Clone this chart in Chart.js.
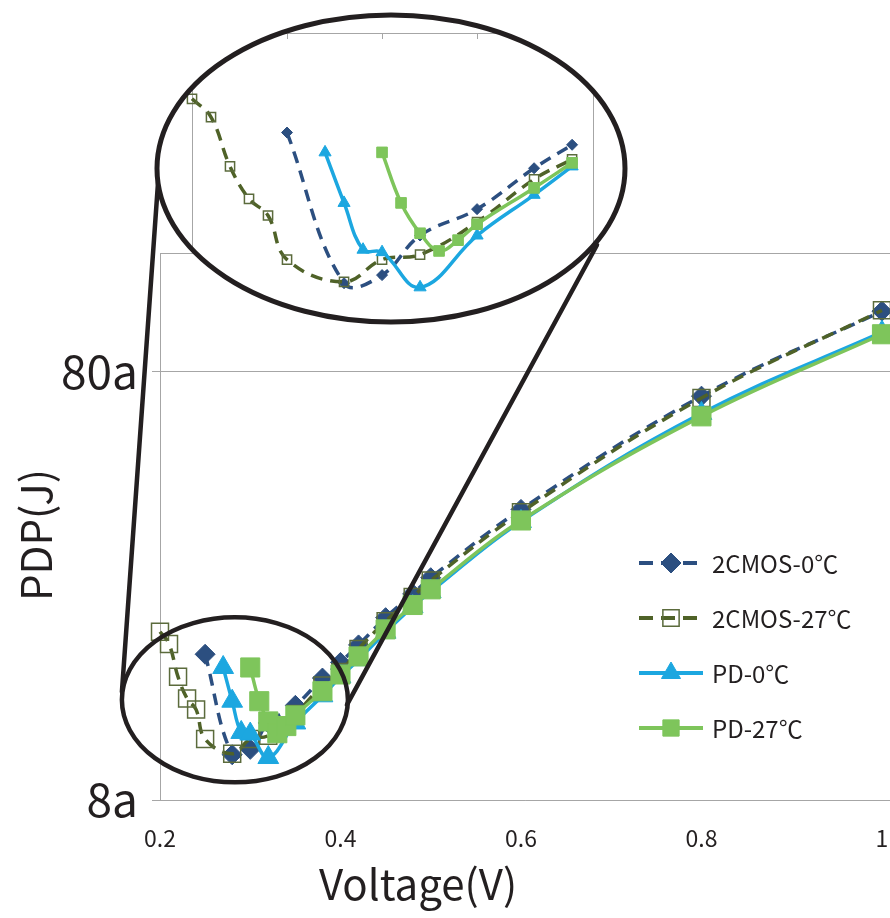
<!DOCTYPE html>
<html>
<head>
<meta charset="utf-8">
<script src="https://cdn.jsdelivr.net/npm/chart.js@4"></script>
<style>
  html, body { margin: 0; padding: 0; background: #fff; overflow: hidden; }
  #wrap { position: relative; width: 890px; height: 918px; }
  #main, #zoom { position: absolute; left: 0; top: 0; }
</style>
</head>
<body>
<div id="wrap">
  <canvas id="main" width="890" height="918"></canvas>
  <canvas id="zoom" width="660" height="360"></canvas>
</div>
<script>
// ---- data: supply voltage (V) and power-delay product (aJ) per circuit ----
const seriesNames = ['2CMOS-0\u2103', '2CMOS-27\u2103', 'PD-0\u2103', 'PD-27\u2103'];

const voltsCmos0 = [0.25, 0.28, 0.30, 0.32, 0.35, 0.38, 0.40, 0.42, 0.45, 0.48, 0.50, 0.60, 0.80, 1.00];
const pdpCmos0   = [17.5, 10.2, 10.5, 12.1, 13.3, 15.4, 16.75, 18.4, 21.3, 24.2, 26.4, 38.1, 70.0, 110.5];

const voltsCmos27 = [0.20, 0.21, 0.22, 0.23, 0.24, 0.25, 0.28, 0.30, 0.32, 0.35, 0.38, 0.40, 0.42, 0.45, 0.48, 0.50, 0.60, 0.80, 1.00];
const pdpCmos27   = [19.75, 18.5, 15.5, 13.8, 13.0, 11.1, 10.25, 11.1, 11.3, 12.7, 14.8, 15.9, 18.0, 20.9, 23.8, 26.0, 37.5, 69.3, 111.0];

const voltsPd0 = [0.27, 0.28, 0.29, 0.30, 0.32, 0.35, 0.38, 0.40, 0.42, 0.45, 0.48, 0.50, 0.60, 0.80, 1.00];
const pdpPd0   = [16.3, 13.6, 11.5, 11.4, 10.05, 12.1, 14.0, 15.5, 17.0, 19.7, 22.6, 24.5, 35.7, 63.8, 98.7];

const voltsPd27 = [0.30, 0.31, 0.32, 0.33, 0.34, 0.35, 0.38, 0.40, 0.42, 0.45, 0.48, 0.50, 0.60, 0.80, 1.00];
const pdpPd27   = [16.3, 13.6, 12.2, 11.45, 11.9, 12.6, 14.35, 15.7, 17.3, 20.0, 22.8, 24.8, 35.9, 62.8, 97.6];

const xTickValues = [0.2, 0.4, 0.6, 0.8, 1.0];
const xTickLabels = ['0.2', '0.4', '0.6', '0.8', '1'];
const yTickValues = [8, 80];
const yTickLabels = ['8a', '80a'];

// close-up view: voltage range shown and its top tick marks
const zoomVoltMax = 0.40;
const zoomTickValues = [0.25, 0.30, 0.35, 0.40];

// ---- look ----
const FONT = '"Noto Sans CJK JP", "Noto Sans", sans-serif';
const INK = '#231f20';
const GRID = '#a6a6a6';

const SERIES = [
  { xs: voltsCmos0,  ys: pdpCmos0,  color: '#2c4f80', dash: [12, 8], style: 'rectRot',  filled: true,  r: 10,   zr: 5.5 },
  { xs: voltsCmos27, ys: pdpCmos27, color: '#4f6228', dash: [12, 8], style: 'rect',     filled: false, r: 12,   zr: 6.5 },
  { xs: voltsPd0,    ys: pdpPd0,    color: '#1ca7e0', dash: [],      style: 'triangle', filled: true,  r: 12,   zr: 7 },
  { xs: voltsPd27,   ys: pdpPd27,   color: '#7ec55b', dash: [],      style: 'rect',     filled: true,  r: 13.5, zr: 7.5 },
];

function datasets(zoomed) {
  return SERIES.map((s, i) => {
    let pts = s.xs.map((x, k) => ({ x, y: s.ys[k] }));
    if (zoomed) pts = pts.filter(p => p.x <= zoomVoltMax + 1e-9);
    return {
      label: seriesNames[i],
      data: pts,
      order: SERIES.length - 1 - i,
      borderColor: s.color,
      backgroundColor: s.filled ? s.color : 'rgba(255,255,255,0)',
      borderWidth: 3.5,
      borderDash: s.dash,
      tension: 0.4,
      pointStyle: s.style,
      pointRadius: zoomed ? s.zr : s.r,
      pointBackgroundColor: s.filled ? s.color : 'rgba(255,255,255,0)',
      pointBorderColor: s.filled ? s.color : '#5b6b3c',
      pointBorderWidth: s.filled ? 1 : 1.5,
      clip: false,
    };
  });
}

// magnified view: ellipse outline
const BIG = { cx: 391, cy: 168.5, rx: 234, ry: 153.5 };
// region that is magnified (centre in data units, radii in px)
const SMALL = { v: 0.283, pdp: 13.7, rx: 113, ry: 82.5 };

function drawMarker(ctx, style, x, y, r) {
  ctx.beginPath();
  if (style === 'rect') {
    const h = r * Math.SQRT1_2;
    ctx.rect(x - h, y - h, 2 * h, 2 * h);
  } else if (style === 'rectRot') {
    ctx.moveTo(x - r, y); ctx.lineTo(x, y - r); ctx.lineTo(x + r, y); ctx.lineTo(x, y + r); ctx.closePath();
  } else {
    for (let k = 0; k < 3; k++) {
      const t = -Math.PI / 2 + k * 2 * Math.PI / 3;
      const px = x + Math.cos(t) * r, py = y + Math.sin(t) * r;
      k ? ctx.lineTo(px, py) : ctx.moveTo(px, py);
    }
    ctx.closePath();
  }
  ctx.fill();
  ctx.stroke();
}

const mainDecor = {
  id: 'mainDecor',
  beforeDatasetsDraw(chart) {
    const { ctx, chartArea: a } = chart;
    ctx.save();
    ctx.strokeStyle = GRID; ctx.lineWidth = 1;
    ctx.beginPath(); ctx.moveTo(a.left, a.top + 0.5); ctx.lineTo(a.right, a.top + 0.5); ctx.stroke();
    ctx.restore();
  },
  afterDraw(chart) {
    const { ctx, scales: { x, y } } = chart;
    ctx.save();
    // axis titles
    ctx.fillStyle = INK;
    ctx.font = `42px ${FONT}`;
    ctx.textAlign = 'center'; ctx.textBaseline = 'middle';
    ctx.fillText('Voltage(V)', 418, 884);
    ctx.save();
    ctx.translate(36, 535); ctx.rotate(-Math.PI / 2);
    ctx.fillText('PDP(J)', 0, 0);
    ctx.restore();

    // legend
    const rows = [563, 618, 673, 728];
    SERIES.forEach((s, i) => {
      const ly = rows[i];
      ctx.save();
      ctx.strokeStyle = s.color; ctx.lineWidth = 4;
      ctx.setLineDash(s.dash.length ? [14, 8] : []);
      ctx.beginPath(); ctx.moveTo(639, ly); ctx.lineTo(s.dash.length ? 697 : 703, ly); ctx.stroke();
      ctx.setLineDash([]);
      ctx.fillStyle = s.filled ? s.color : 'rgba(255,255,255,0)';
      ctx.strokeStyle = s.filled ? s.color : '#5b6b3c';
      ctx.lineWidth = s.filled ? 1 : 1.5;
      const lr = s.style === 'rectRot' ? 10 : (s.style === 'triangle' ? 11 : 11.5);
      drawMarker(ctx, s.style, 671, ly, lr);
      ctx.restore();
      ctx.fillStyle = INK;
      ctx.font = `24px ${FONT}`;
      ctx.textAlign = 'left'; ctx.textBaseline = 'middle';
      ctx.fillText(seriesNames[i], 712, ly + 1);
    });

    // magnified region and connectors
    const cx = x.getPixelForValue(SMALL.v), cy = y.getPixelForValue(SMALL.pdp);
    ctx.strokeStyle = INK; ctx.lineWidth = 4.5;
    ctx.beginPath(); ctx.ellipse(cx, cy, SMALL.rx, SMALL.ry, 0, 0, 2 * Math.PI); ctx.stroke();
    ctx.lineCap = 'round';
    ctx.beginPath(); ctx.moveTo(158.5, 176); ctx.lineTo(cx - SMALL.rx, cy - 8); ctx.stroke();
    ctx.beginPath(); ctx.moveTo(597, 245); ctx.lineTo(cx + SMALL.rx - 1, cy + 5); ctx.stroke();
    ctx.restore();
  }
};

new Chart(document.getElementById('main'), {
  type: 'line',
  data: { datasets: datasets(false) },
  plugins: [mainDecor],
  options: {
    responsive: false, animation: false, events: [],
    layout: { autoPadding: false, padding: { top: 253, right: 0, left: 0, bottom: 0 } },
    plugins: { legend: { display: false }, tooltip: { enabled: false } },
    scales: {
      x: {
        type: 'linear', min: 0.2, max: 1.0089,
        afterBuildTicks: s => { s.ticks = xTickValues.map(v => ({ value: v })); },
        afterFit: s => { s.height = 118; s.paddingLeft = 0; s.paddingRight = 0; },
        grid: { display: false, drawTicks: false },
        border: { display: true, color: GRID, width: 1 },
        ticks: {
          callback: (v, i) => xTickLabels[i],
          font: { family: FONT, size: 23 }, color: INK,
          padding: 24, maxRotation: 0, autoSkip: false
        }
      },
      y: {
        type: 'logarithmic', min: 8, max: 151,
        afterBuildTicks: s => { s.ticks = yTickValues.map(v => ({ value: v })); },
        afterFit: s => { s.width = 160; s.paddingTop = 0; s.paddingBottom = 0; },
        grid: { color: GRID, lineWidth: 1, tickLength: 8 },
        border: { display: true, color: GRID, width: 1 },
        ticks: {
          callback: (v, i) => yTickLabels[i],
          font: { family: FONT, size: 46 }, color: INK,
          padding: 14, autoSkip: false
        }
      }
    }
  }
});

const zoomDecor = {
  id: 'zoomDecor',
  beforeDraw(chart) {
    const { ctx, chartArea: a } = chart;
    ctx.save();
    ctx.beginPath(); ctx.ellipse(BIG.cx, BIG.cy, BIG.rx, BIG.ry, 0, 0, 2 * Math.PI);
    ctx.fillStyle = '#fff'; ctx.fill();
    ctx.clip();
    ctx.strokeStyle = GRID; ctx.lineWidth = 1;
    ctx.strokeRect(a.left + 0.5, a.top + 0.5, a.right - a.left, a.bottom - a.top);
    const xs = chart.scales.x;
    zoomTickValues.forEach(v => {
      const px = Math.round(xs.getPixelForValue(v)) + 0.5;
      ctx.beginPath(); ctx.moveTo(px, a.top); ctx.lineTo(px, a.top + 6); ctx.stroke();
    });
  },
  afterDraw(chart) {
    const ctx = chart.ctx;
    ctx.restore();
    ctx.save();
    ctx.beginPath(); ctx.ellipse(BIG.cx, BIG.cy, BIG.rx, BIG.ry, 0, 0, 2 * Math.PI);
    ctx.strokeStyle = INK; ctx.lineWidth = 5; ctx.stroke();
    ctx.restore();
  }
};

new Chart(document.getElementById('zoom'), {
  type: 'line',
  data: { datasets: datasets(true) },
  plugins: [zoomDecor],
  options: {
    responsive: false, animation: false, events: [],
    layout: { autoPadding: false, padding: { left: 192, top: 33, right: 67, bottom: 9 } },
    plugins: { legend: { display: false }, tooltip: { enabled: false } },
    scales: {
      x: { type: 'linear', min: 0.2, max: 0.411, display: false },
      y: { type: 'logarithmic', min: 8, max: 25, display: false }
    }
  }
});
</script>
</body>
</html>
